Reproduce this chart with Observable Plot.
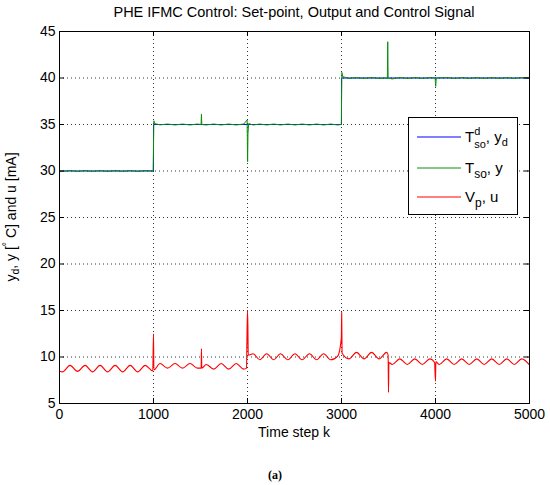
<!DOCTYPE html>
<html><head><meta charset="utf-8">
<script src="https://cdn.jsdelivr.net/npm/d3@7"></script>
<script src="https://cdn.jsdelivr.net/npm/@observablehq/plot@0.6"></script>
<style>
body{margin:0;background:#fff;}
#chart{position:relative;width:550px;height:485px;}
</style>
</head><body><div id="chart"></div>
<script>
// ---- data ----
const xTicks = [0, 1000, 2000, 3000, 4000, 5000];
const yTicks = [5, 10, 15, 20, 25, 30, 35, 40, 45];

// set-point T_so^d, y_d
const setK = [0, 1000, 3000, 5000];
const setY = [30, 35, 40, 40];

// output T_so, y
const outK = [0,112,192,272,352,432,512,592,672,752,832,912,996,
  1004,1012,1069,1149,1229,1309,1388,1468,1506,1510,1514,1560,1640,1720,1800,1880,1960,
  1996,2001,2005,2012,2060,2130,2204,2280,2350,2430,2505,2580,2660,2735,2810,2885,2960,2998,
  3004,3012,3080,3160,3240,3320,3400,3488,3492,3496,3540,3620,3700,3780,3860,3940,3996,
  4002,4008,4119,4199,4279,4359,4439,4518,4598,4678,4758,4838,4917,5000];
const outY = [29.92,30.06,29.95,30.06,29.95,30.06,29.95,30.06,29.95,30.06,29.95,30.06,30.0,
  35.4,35.1,34.96,35.05,34.95,35.05,34.95,35.05,35.0,36.1,35.0,34.95,35.05,34.95,35.05,34.95,35.05,
  35.5,31.0,34.0,35.1,34.95,35.05,34.95,35.05,34.95,35.05,34.95,35.05,34.95,35.05,34.95,35.05,34.95,35.0,
  40.6,40.15,39.95,40.05,39.95,40.05,39.95,40.0,43.9,40.0,39.9,40.05,39.95,40.05,39.95,40.05,40.0,
  39.1,40.0,40.05,39.95,40.05,39.95,40.05,39.95,40.05,39.95,40.05,39.95,40.05,40.0];

// control signal V_p, u
const ctlK = [0,32,112,192,272,352,432,512,592,672,752,832,912,992,
  1000,1004,1069,1149,1229,1309,1388,1468,1507,1510,1514,1560,1640,1720,1800,1880,1960,
  1990,1994,2000,2004,2008,2060,2130,2204,2280,2350,2430,2505,2580,2660,2735,2810,2885,2960,
  2998,3002,3006,3080,3160,3240,3320,3400,3480,3496,
  3500,3504,3540,3620,3700,3780,3860,3940,3990,
  4000,4004,4040,4119,4199,4279,4359,4439,4518,4598,4678,4758,4838,4917,5000];
const ctlU = [8.5,8.4,9.1,8.45,9.1,8.4,9.1,8.4,9.1,8.4,9.1,8.4,9.1,8.5,
  12.5,8.6,9.3,8.8,9.3,8.8,9.3,8.8,8.8,10.9,8.8,9.2,8.7,9.3,8.7,9.3,8.7,
  8.8,11.9,15.0,13.4,10.2,10.35,9.7,10.35,9.7,10.35,9.7,10.35,9.7,10.35,9.7,10.35,9.7,10.1,
  12.0,14.8,10.4,9.8,10.5,9.8,10.5,9.8,10.5,10.2,
  6.2,9.4,9.2,9.8,9.2,9.8,9.2,9.8,9.4,
  7.4,9.5,9.2,9.8,9.2,9.8,9.2,9.8,9.2,9.8,9.2,9.8,9.2,9.8,9.15];

// ---- layout ----
const W = 550, H = 485, mT = 31, mB = 82, mL = 59, mR = 21;
const pw = W - mL - mR, ph = H - mT - mB;
const FONT = "'Liberation Sans', Arial, Helvetica, sans-serif";

const setData = setK.map((k, i) => ({k, v: setY[i]}));
const outData = outK.map((k, i) => ({k, v: outY[i]}));
const ctlData = ctlK.map((k, i) => ({k, v: ctlU[i]}));

const svg = Plot.plot({
  width: W, height: H,
  marginTop: mT, marginBottom: mB, marginLeft: mL, marginRight: mR,
  style: {fontFamily: FONT, fontSize: "14px", background: "white", color: "black"},
  x: {domain: [0, 5000]},
  y: {domain: [5, 45]},
  marks: [
    Plot.gridX(xTicks.slice(1, -1), {stroke: "black", strokeOpacity: 1, strokeWidth: 0.8, strokeDasharray: "1,3"}),
    Plot.gridY(yTicks.slice(1, -1), {stroke: "black", strokeOpacity: 1, strokeWidth: 0.8, strokeDasharray: "1,3"}),
    Plot.line(setData, {x: "k", y: "v", stroke: "#0000ff", strokeWidth: 1, curve: "step-after"}),
    Plot.line(outData, {x: "k", y: "v", stroke: "#0a8f0a", strokeWidth: 1}),
    Plot.line(ctlData, {x: "k", y: "v", stroke: "#ff0000", strokeWidth: 1.1, curve: "monotone-x"}),
    Plot.tickX(xTicks, {x: d => d, insetTop: ph - 5, stroke: "black"}),
    Plot.tickX(xTicks, {x: d => d, insetBottom: ph - 5, stroke: "black"}),
    Plot.tickY(yTicks, {y: d => d, insetRight: pw - 5, stroke: "black"}),
    Plot.tickY(yTicks, {y: d => d, insetLeft: pw - 5, stroke: "black"}),
    Plot.frame({stroke: "black"}),
    Plot.axisX(xTicks, {tickSize: 0, tickPadding: 6, label: null, tickFormat: "d", fontSize: 14}),
    Plot.axisY(yTicks, {tickSize: 0, tickPadding: 4, label: null, tickFormat: "d", fontSize: 14})
  ]
});
document.getElementById("chart").appendChild(svg);

const s = d3.select(svg);
const cx = mL + pw / 2;

// title
s.append("text").attr("x", cx).attr("y", 17).attr("text-anchor", "middle")
  .attr("font-family", FONT).attr("font-size", 14.5)
  .text("PHE IFMC Control: Set-point, Output and Control Signal");

// x label
s.append("text").attr("x", cx).attr("y", 437).attr("text-anchor", "middle")
  .attr("font-family", FONT).attr("font-size", 14).text("Time step k");

// y label
const yl = s.append("text").attr("transform", `translate(16,${mT + ph / 2}) rotate(-90)`)
  .attr("text-anchor", "middle").attr("font-family", FONT).attr("font-size", 14);
yl.append("tspan").text("y");
yl.append("tspan").attr("font-size", 10.5).attr("dy", 3).text("d");
yl.append("tspan").attr("dy", -3).text(", y [");
yl.append("tspan").attr("font-size", 10.5).attr("dy", -6).text("°");
yl.append("tspan").attr("dy", 6).text(" C] and u [mA]");

// caption
s.append("text").attr("x", 275).attr("y", 479).attr("text-anchor", "middle")
  .attr("font-family", "'Liberation Serif', 'DejaVu Serif', serif").attr("font-weight", "bold")
  .attr("font-size", 12).text("(a)");

// legend
const lg = s.append("g").attr("font-family", FONT).attr("text-anchor", "start");
lg.append("rect").attr("x", 408.5).attr("y", 117.5).attr("width", 109).attr("height", 97)
  .attr("fill", "white").attr("stroke", "black");
const rows = [137, 168, 197];
const cols = ["#0000ff", "#0a8f0a", "#ff0000"];
rows.forEach((ry, i) => {
  lg.append("line").attr("x1", 417).attr("x2", 461).attr("y1", ry).attr("y2", ry)
    .attr("stroke", cols[i]).attr("stroke-width", 1);
});
const t1 = lg.append("text").attr("x", 465).attr("y", rows[0] + 5).attr("font-size", 15).attr("text-anchor", "start");
t1.append("tspan").text("T");
t1.append("tspan").attr("font-size", 11).attr("dy", -7.5).text("d");
t1.append("tspan").attr("font-size", 11).attr("dx", -6.1).attr("dy", 13).text("so");
t1.append("tspan").attr("dy", -5.5).text(", y");
t1.append("tspan").attr("font-size", 11).attr("dy", 4).text("d");

const t2 = lg.append("text").attr("x", 465).attr("y", rows[1] + 5).attr("font-size", 15).attr("text-anchor", "start");
t2.append("tspan").text("T");
t2.append("tspan").attr("font-size", 12).attr("dy", 5).text("so");
t2.append("tspan").attr("dy", -5).text(", y");

const t3 = lg.append("text").attr("x", 465).attr("y", rows[2] + 5).attr("font-size", 15).attr("text-anchor", "start");
t3.append("tspan").text("V");
t3.append("tspan").attr("font-size", 12).attr("dy", 5).text("p");
t3.append("tspan").attr("dy", -5).text(", u");
</script>
</body></html>
